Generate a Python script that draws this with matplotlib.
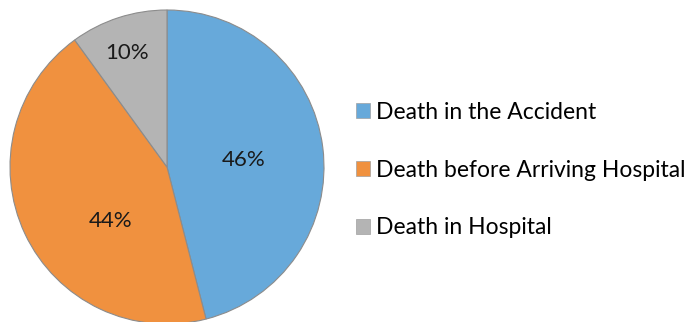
import matplotlib
matplotlib.use("Agg")
from matplotlib import pyplot as plt

labels = ["Death in the Accident", "Death before Arriving Hospital", "Death in Hospital"]
shares = [46, 44, 10]
colors = ["#67A9DA", "#F0913F", "#B4B4B4"]

plt.rcParams['font.family'] = ['Lato', 'DejaVu Sans']

fig = plt.figure(figsize=(7, 3.22), dpi=100)
ax = fig.add_axes([10 / 700, -2 / 322, 314 / 700, 314 / 322])
wedges, texts, autotexts = ax.pie(
    shares, colors=colors, startangle=90, counterclock=False,
    autopct="%d%%", pctdistance=0.5,
    wedgeprops=dict(edgecolor="#8C8C8C", linewidth=0.8),
    textprops=dict(fontsize=16, color="#1A1A1A"),
)
# label spots like the original best-fit placement
spots = [(0.49, 0.045), (-0.357, -0.344), (-0.255, 0.726)]
for t, p in zip(autotexts, spots):
    t.set_position(p)
ax.set_xlim(-1, 1)
ax.set_ylim(-1, 1)
ax.set_aspect("equal")

leg = fig.legend(wedges, labels, loc="center left", bbox_to_anchor=(335 / 700, 0.472),
                 frameon=False, fontsize=16.5, labelspacing=1.6,
                 handlelength=0.63, handleheight=0.63, handletextpad=0.25)
for h in leg.legend_handles:
    h.set_edgecolor("#A0A0A0")
    h.set_linewidth(0.5)

plt.savefig("out.png", dpi=100)
